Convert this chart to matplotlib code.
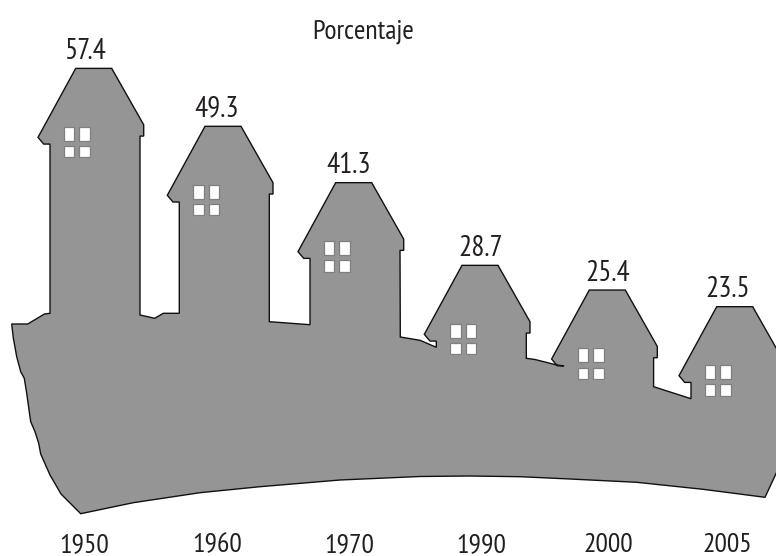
import matplotlib
matplotlib.use("Agg")
import matplotlib.pyplot as plt
from matplotlib.patches import Polygon, Rectangle

plt.rcParams['font.family'] = ['PT Sans Narrow', 'Roboto Condensed', 'Liberation Sans Narrow',
                               'Liberation Sans', 'DejaVu Sans']

years = ['1950', '1960', '1970', '1990', '2000', '2005']
values = [57.4, 49.3, 41.3, 28.7, 25.4, 23.5]
title = 'Porcentaje'

W, H = 776, 556
PX_PER_UNIT = 7.03
ZERO_PX = 471.9
AXES_BOTTOM_PX = 530
FONT_SIZE = 20
VALUE_FONT_SIZE = 21
TEXT_COLOR = '#231f20'

label_x = [84.5, 217, 349, 481, 608, 727.5]
roof_x = [75.7, 205, 335.7, 462, 589.3, 716.7]
# the printed houses are not exactly to scale: small per-house drawing shift, px
roof_shift = [0, 1, 1.1, -4.8, -3.3, 0]

# house outline, pixels from the roof's top-left corner
left_side = [(-25.7, 75.7), (-32, 75.7), (-37.7, 69)]
right_side = [(0, 0), (36, 0), (68, 56.4), (68, 67.7), (64.3, 67.7)]
win_cols = [(-11.7, -1.4), (3.6, 14.3)]
win_rows = [(58.2, 72.4), (77.7, 89)]

# outline points running between one house's right wall and the next one's left wall (px)
gaps = [
    [(140, 315), (154.7, 318.3), (163.3, 313.3), (179.3, 313.3)],
    [(269.3, 321.7), (310, 324.7)],
    [(400.3, 337), (420, 340.3), (436.3, 347.3)],
    [(526.3, 358.3), (535, 359.5), (556.7, 365), (563.6, 366)],
    [(653.6, 386.7), (691, 398.7)],
]
ground_right = [(784.7, 455), (765, 497.3)]
ground_bottom = [(703, 489.3), (636.7, 482.3), (570, 479), (520, 476.7), (470, 476),
                 (420, 476.5), (340, 480), (260, 486.7), (200, 492.7), (133.3, 502.7), (80.7, 513.7)]
ground_left = [(61, 494), (50, 475), (40.7, 454), (38.7, 443.3), (35, 431.7), (30.7, 421.7),
               (26.7, 393.3), (24.3, 378.3), (20.7, 371.7), (16.7, 356.7), (13.3, 338),
               (11.7, 324), (27.7, 324), (44.5, 314), (50, 313.3)]


def val(py):
    return (ZERO_PX - py) / PX_PER_UNIT


def top_px(v, shift):
    return ZERO_PX - v * PX_PER_UNIT + shift


fig = plt.figure(figsize=(W / 100, H / 100), dpi=100)
ax = fig.add_axes([0, 1 - AXES_BOTTOM_PX / H, 1, AXES_BOTTOM_PX / H])
ax.set_xlim(0, W)
ax.set_ylim(val(AXES_BOTTOM_PX), val(0))
for s in ax.spines.values():
    s.set_visible(False)
ax.set_yticks([])
ax.set_xticks(label_x)
ax.set_xticklabels(years)
ax.tick_params(axis='x', length=0, pad=2, labelsize=FONT_SIZE, labelcolor=TEXT_COLOR)

outline = []
for i, (rx, v, sh) in enumerate(zip(roof_x, values, roof_shift)):
    outline += [(rx + dx, val(top_px(v, sh) + dy)) for dx, dy in left_side + right_side]
    if i < len(gaps):
        outline += [(x, val(y)) for x, y in gaps[i]]
outline += [(x, val(y)) for x, y in ground_right + ground_bottom + ground_left]

ax.add_patch(Polygon(outline, closed=True, facecolor='#959595', edgecolor='#111111',
                     linewidth=1.0, joinstyle='miter', clip_on=False, zorder=2))

for rx, v, sh, lx in zip(roof_x, values, roof_shift, label_x):
    top = top_px(v, sh)
    for x0, x1 in win_cols:
        for y0, y1 in win_rows:
            ax.add_patch(Rectangle((rx + x0, val(top + y1)), x1 - x0, (y1 - y0) / PX_PER_UNIT,
                                   facecolor='white', edgecolor='#7f7f7f', linewidth=0.9, zorder=3))
    ax.text(lx, val(top - 9.5), f'{v:.1f}', ha='center', va='baseline',
            fontsize=VALUE_FONT_SIZE, color=TEXT_COLOR, zorder=4)

ax.text(363, val(38), title, ha='center', va='baseline', fontsize=FONT_SIZE, color=TEXT_COLOR)

fig.savefig('out.png', dpi=100)
